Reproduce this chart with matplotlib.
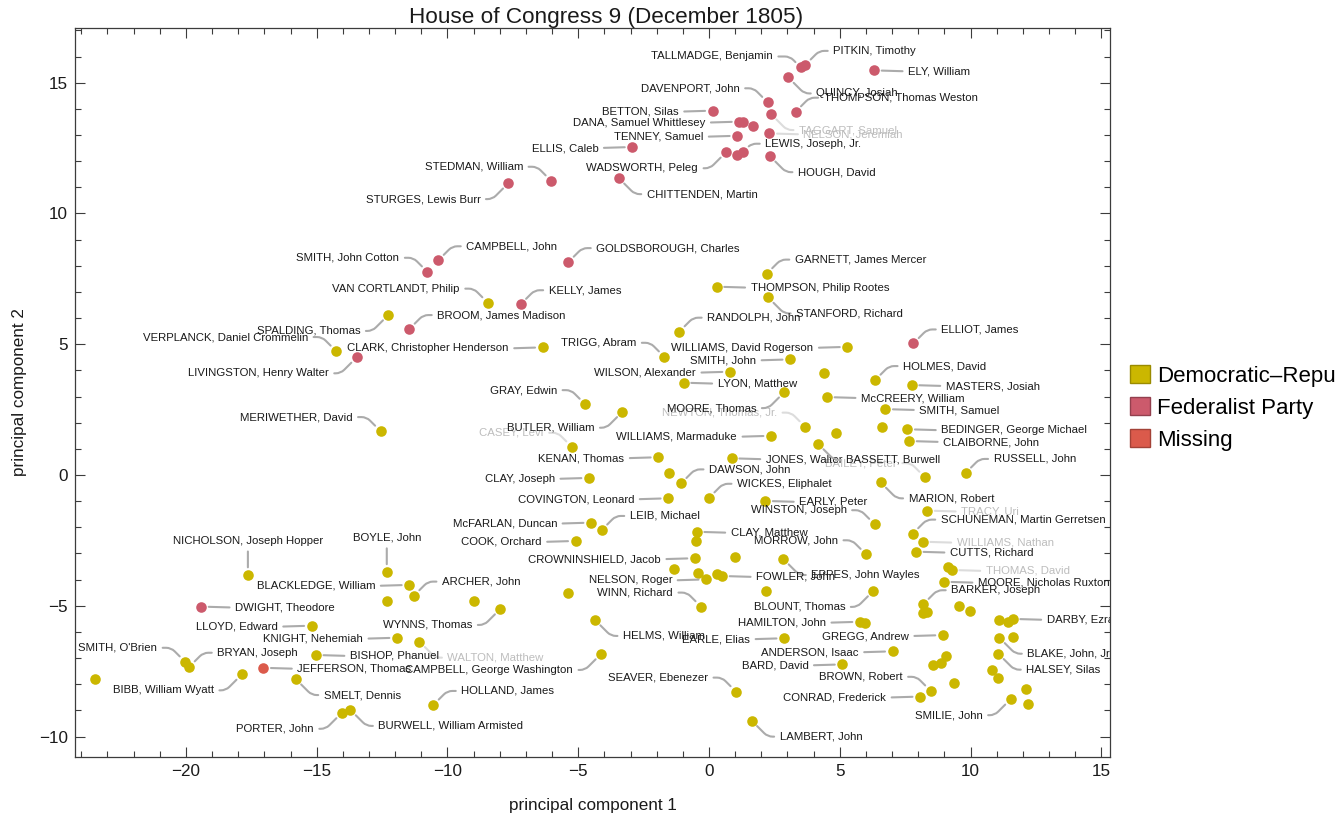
import matplotlib
matplotlib.use("Agg")
import matplotlib.pyplot as plt
from matplotlib.patches import Patch
from matplotlib.ticker import MultipleLocator

# ---------------- data ----------------
names = [
    "TALLMADGE, Benjamin", "PITKIN, Timothy", "ELY, William", "QUINCY, Josiah",
    "THOMPSON, Thomas Weston", "DAVENPORT, John", "TAGGART, Samuel", "BETTON, Silas",
    "DANA, Samuel Whittlesey", "", "", "TENNEY, Samuel", "NELSON, Jeremiah",
    "LEWIS, Joseph, Jr.", "WADSWORTH, Peleg", "", "ELLIS, Caleb", "HOUGH, David",
    "STEDMAN, William", "STURGES, Lewis Burr", "CHITTENDEN, Martin", "SMITH, John Cotton",
    "CAMPBELL, John", "GOLDSBOROUGH, Charles", "KELLY, James", "BROOM, James Madison",
    "LIVINGSTON, Henry Walter", "ELLIOT, James", "DWIGHT, Theodore", "JEFFERSON, Thomas",
    "VAN CORTLANDT, Philip", "SPALDING, Thomas", "VERPLANCK, Daniel Crommelin",
    "CLARK, Christopher Henderson", "MERIWETHER, David", "GARNETT, James Mercer",
    "THOMPSON, Philip Rootes", "STANFORD, Richard", "RANDOLPH, John", "TRIGG, Abram",
    "WILLIAMS, David Rogerson", "SMITH, John", "WILSON, Alexander", "LYON, Matthew", "",
    "HOLMES, David", "MASTERS, Josiah", "McCREERY, William", "GRAY, Edwin", "MOORE, Thomas",
    "SMITH, Samuel", "BUTLER, William", "NEWTON, Thomas, Jr.", "", "",
    "BEDINGER, George Michael", "CLAIBORNE, John", "CASEY, Levi", "WILLIAMS, Marmaduke",
    "KENAN, Thomas", "JONES, Walter", "BASSETT, Burwell", "BAILEY, Peter", "RUSSELL, John",
    "MARION, Robert", "DAWSON, John", "CLAY, Joseph", "", "COVINGTON, Leonard",
    "WICKES, Eliphalet", "EARLY, Peter", "WINSTON, Joseph", "TRACY, Uri",
    "SCHUNEMAN, Martin Gerretsen", "McFARLAN, Duncan", "LEIB, Michael", "COOK, Orchard",
    "CLAY, Matthew", "", "MORROW, John", "WILLIAMS, Nathan", "CUTTS, Richard",
    "CROWNINSHIELD, Jacob", "", "", "EPPES, John Wayles", "THOMAS, David", "",
    "FOWLER, John", "", "NELSON, Roger", "", "MOORE, Nicholas Ruxton", "BLOUNT, Thomas", "",
    "BARKER, Joseph", "", "", "", "", "WINN, Richard", "", "ARCHER, John",
    "BLACKLEDGE, William", "BOYLE, John", "NICHOLSON, Joseph Hopper", "", "",
    "WYNNS, Thomas", "DARBY, Ezra", "", "", "HAMILTON, John", "", "HELMS, William",
    "LLOYD, Edward", "KNIGHT, Nehemiah", "GREGG, Andrew", "BLAKE, John, Jr.", "",
    "EARLE, Elias", "WALTON, Matthew", "BISHOP, Phanuel", "ANDERSON, Isaac",
    "HALSEY, Silas", "SMITH, O'Brien", "BRYAN, Joseph", "CAMPBELL, George Washington",
    "BARD, David", "", "", "", "BIBB, William Wyatt", "SMELT, Dennis", "",
    "BROWN, Robert", "HOLLAND, James", "SEAVER, Ebenezer", "CONRAD, Frederick",
    "", "", "", "", "", "SMILIE, John", "PORTER, John", "BURWELL, William Armisted",
    "LAMBERT, John",
]

pc1 = [
    3.51, 3.68, 6.31, 3.03,
    3.31, 2.24, 2.37, 0.14,
    1.16, 1.31, 1.67, 1.08, 2.31,
    1.31, 0.65, 1.08, -2.93, 2.33,
    -6.04, -7.67, -3.45, -10.77,
    -10.35, -5.38, -7.20, -11.46,
    -13.47, 7.81, -19.42, -17.04,
    -8.46, -12.26, -14.26,
    -6.36, -12.56, 2.21,
    0.29, 2.26, -1.14, -1.71,
    5.29, 3.10, 0.80, -0.97, 4.40,
    6.35, 7.75, 4.51, -4.74, 2.88,
    6.74, -3.31, 3.67, 4.85, 6.61,
    7.58, 7.65, -5.25, 2.37,
    -1.94, 0.87, 4.17, 8.25, 9.81,
    6.56, -1.07, -4.59, -1.52, -1.56,
    0.00, 2.15, 6.33, 8.34,
    7.79, -4.51, -4.10, -5.10,
    -0.47, -0.51, 6.00, 8.17, 7.91,
    -0.54, 0.99, -1.34, 2.84, 9.28, 9.12,
    0.50, 0.32, -0.11, -0.43, 8.98, 6.28, 2.17,
    8.19, 8.19, 8.32, 9.57, 9.98, -0.31, -5.40, -11.28,
    -11.46, -12.32, -17.63, -12.30, -8.98,
    -7.98, 11.61, 11.09, 11.44, 5.77, 5.96, -4.36,
    -15.19, -11.93, 8.94, 11.10, 11.63,
    2.87, -11.07, -15.03, 7.02,
    11.06, -20.03, -19.87, -4.13,
    5.10, 9.05, 8.87, 8.57, -17.86, -15.80, -23.47,
    8.47, -10.54, 1.03, 8.07,
    10.81, 11.06, 9.37, 12.12, 12.21, 11.53, -14.04, -13.71,
    1.63,
]

pc2 = [
    15.58, 15.68, 15.47, 15.20,
    13.89, 14.25, 13.80, 13.93,
    13.51, 13.48, 13.33, 12.97, 13.06,
    12.36, 12.34, 12.23, 12.54, 12.19,
    11.25, 11.16, 11.35, 7.77,
    8.21, 8.14, 6.53, 5.58,
    4.50, 5.03, -5.03, -7.37,
    6.59, 6.12, 4.74,
    4.88, 1.68, 7.70,
    7.20, 6.79, 5.48, 4.52,
    4.90, 4.42, 3.95, 3.53, 3.91,
    3.63, 3.44, 2.98, 2.71, 3.17,
    2.52, 2.42, 1.85, 1.62, 1.82,
    1.75, 1.30, 1.08, 1.50,
    0.68, 0.64, 1.19, -0.08, 0.08,
    -0.28, -0.32, -0.11, 0.09, -0.89,
    -0.87, -0.99, -1.88, -1.36,
    -2.24, -1.82, -2.10, -2.52,
    -2.17, -2.51, -3.03, -2.55, -2.93,
    -3.18, -3.12, -3.59, -3.21, -3.63, -3.51,
    -3.86, -3.80, -3.99, -3.76, -4.08, -4.43, -4.42,
    -4.94, -5.29, -5.23, -5.00, -5.19, -5.03, -4.50, -4.61,
    -4.20, -3.70, -3.82, -4.80, -4.82,
    -5.12, -5.50, -5.54, -5.61, -5.61, -5.67, -5.54,
    -5.76, -6.22, -6.12, -6.22, -6.20,
    -6.24, -6.37, -6.88, -6.74,
    -6.83, -7.14, -7.33, -6.84,
    -7.24, -6.91, -7.20, -7.26, -7.62, -7.80, -7.81,
    -8.25, -8.79, -8.28, -8.47,
    -7.45, -7.77, -7.96, -8.19, -8.77, -8.57, -9.09, -8.98,
    -9.39,
]

party = ["F"] * 29 + ["M"] + ["D"] * (len(names) - 30)

party_labels = {"D": "Democratic\u2013Republican", "F": "Federalist Party", "M": "Missing"}

# ---------------- layout / style ----------------
label_side = {
    "TALLMADGE, Benjamin": "NW", "PITKIN, Timothy": "NE", "ELY, William": "E",
    "QUINCY, Josiah": "SE", "THOMPSON, Thomas Weston": "NE", "DAVENPORT, John": "NW",
    "TAGGART, Samuel": "SE", "BETTON, Silas": "W", "DANA, Samuel Whittlesey": "W",
    "TENNEY, Samuel": "W", "NELSON, Jeremiah": "E", "LEWIS, Joseph, Jr.": "NE",
    "WADSWORTH, Peleg": "SW", "ELLIS, Caleb": "W", "HOUGH, David": "SE",
    "STEDMAN, William": "NW", "STURGES, Lewis Burr": "SW", "CHITTENDEN, Martin": "SE",
    "SMITH, John Cotton": "NW", "CAMPBELL, John": "NE", "GOLDSBOROUGH, Charles": "NE",
    "KELLY, James": "NE", "BROOM, James Madison": "NE", "LIVINGSTON, Henry Walter": "SW",
    "ELLIOT, James": "NE", "DWIGHT, Theodore": "E", "JEFFERSON, Thomas": "E",
    "VAN CORTLANDT, Philip": "NW", "SPALDING, Thomas": "SW",
    "VERPLANCK, Daniel Crommelin": "NW", "CLARK, Christopher Henderson": "W",
    "MERIWETHER, David": "NW", "GARNETT, James Mercer": "NE",
    "THOMPSON, Philip Rootes": "E", "STANFORD, Richard": "SE", "RANDOLPH, John": "NE",
    "TRIGG, Abram": "NW", "WILLIAMS, David Rogerson": "W", "SMITH, John": "W",
    "WILSON, Alexander": "W", "LYON, Matthew": "E", "HOLMES, David": "NE",
    "MASTERS, Josiah": "E", "McCREERY, William": "E", "GRAY, Edwin": "NW",
    "MOORE, Thomas": "SW", "SMITH, Samuel": "E", "BUTLER, William": "SW",
    "NEWTON, Thomas, Jr.": "NW", "BEDINGER, George Michael": "E", "CLAIBORNE, John": "E",
    "CASEY, Levi": "NW", "WILLIAMS, Marmaduke": "W", "KENAN, Thomas": "W",
    "JONES, Walter": "E", "BASSETT, Burwell": "SE", "BAILEY, Peter": "NW",
    "RUSSELL, John": "NE", "MARION, Robert": "SE", "DAWSON, John": "NE",
    "CLAY, Joseph": "W", "COVINGTON, Leonard": "W", "WICKES, Eliphalet": "NE",
    "EARLY, Peter": "E", "WINSTON, Joseph": "NW", "TRACY, Uri": "E",
    "SCHUNEMAN, Martin Gerretsen": "NE", "McFARLAN, Duncan": "W", "LEIB, Michael": "NE",
    "COOK, Orchard": "W", "CLAY, Matthew": "E", "MORROW, John": "NW",
    "WILLIAMS, Nathan": "E", "CUTTS, Richard": "E", "CROWNINSHIELD, Jacob": "W",
    "EPPES, John Wayles": "SE", "THOMAS, David": "E", "FOWLER, John": "E",
    "NELSON, Roger": "W", "MOORE, Nicholas Ruxton": "E", "BLOUNT, Thomas": "SW",
    "BARKER, Joseph": "NE", "WINN, Richard": "NW", "ARCHER, John": "NE",
    "BLACKLEDGE, William": "W", "BOYLE, John": "N", "NICHOLSON, Joseph Hopper": "N",
    "WYNNS, Thomas": "SW", "DARBY, Ezra": "E", "HAMILTON, John": "W",
    "HELMS, William": "SE", "LLOYD, Edward": "W", "KNIGHT, Nehemiah": "W",
    "GREGG, Andrew": "W", "BLAKE, John, Jr.": "SE", "EARLE, Elias": "W",
    "WALTON, Matthew": "SE", "BISHOP, Phanuel": "E", "ANDERSON, Isaac": "W",
    "HALSEY, Silas": "SE", "SMITH, O'Brien": "NW", "BRYAN, Joseph": "NE",
    "CAMPBELL, George Washington": "SW", "BARD, David": "W", "BIBB, William Wyatt": "SW",
    "SMELT, Dennis": "SE", "BROWN, Robert": "NW", "HOLLAND, James": "NE",
    "SEAVER, Ebenezer": "NW", "CONRAD, Frederick": "W", "SMILIE, John": "SW",
    "PORTER, John": "SW", "BURWELL, William Armisted": "SE", "LAMBERT, John": "SE",
}
faded = {"TAGGART, Samuel", "NELSON, Jeremiah", "NEWTON, Thomas, Jr.", "CASEY, Levi",
         "BAILEY, Peter", "TRACY, Uri", "WILLIAMS, Nathan", "THOMAS, David",
         "WALTON, Matthew"}
side_offsets = {"E": (34, -1), "W": (-34, -1), "NE": (28, 14), "NW": (-28, 14),
                "SE": (28, -16), "SW": (-28, -16), "N": (0, 34)}
special_offsets = {"LEWIS, Joseph, Jr.": (22, 8), "TALLMADGE, Benjamin": (-28, 11)}

point_colors = {"D": "#CBB700", "F": "#CC5A6C", "M": "#DB5A4B"}
legend_edges = {"D": "#9A8B00", "F": "#93404E", "M": "#A34237"}
text_col = "#1a1a1a"
faded_col = "#bdbdbd"
lead_col = "#ababab"
faded_lead = "#dcdcdc"
spine_col = "#3c3c3c"

plt.rcParams["font.family"] = ["Liberation Sans", "DejaVu Sans"]
plt.rcParams["axes.unicode_minus"] = True

fig = plt.figure(figsize=(13.36, 8.18), dpi=100)
ax = fig.add_axes([75 / 1336, 61 / 818, 1035 / 1336, 729 / 818])

for code in ["D", "F", "M"]:
    xs = [x for x, p in zip(pc1, party) if p == code]
    ys = [y for y, p in zip(pc2, party) if p == code]
    ax.scatter(xs, ys, s=58, color=point_colors[code], linewidths=0, zorder=3)

for n, x, y in zip(names, pc1, pc2):
    if not n:
        continue
    side = label_side[n]
    dx, dy = special_offsets.get(n, side_offsets[side])
    if side in ("E", "NE", "SE"):
        ha, rel = "left", (0, 0.5)
    elif side in ("W", "NW", "SW"):
        ha, rel = "right", (1, 0.5)
    else:
        ha, rel = "center", (0.5, 0)
    if side in ("E", "W", "N"):
        cs = "arc3,rad=0"
    elif side in ("NE", "SW"):
        cs = "angle,angleA=0,angleB=45,rad=5"
    else:
        cs = "angle,angleA=0,angleB=-45,rad=5"
    isf = n in faded
    ann = ax.annotate(
        n, xy=(x, y), xytext=(dx, dy), textcoords="offset pixels",
        ha=ha, va="center", fontsize=8.2, color=faded_col if isf else text_col,
        zorder=2 if isf else 4,
        arrowprops=dict(arrowstyle="-", connectionstyle=cs,
                        color=faded_lead if isf else lead_col, lw=1.5,
                        shrinkA=2, shrinkB=5.5, relpos=rel),
    )
    ann.set_clip_on(True)
    ann.set_clip_path(ax.patch)

ax.set_xlim(-24.24, 15.33)
ax.set_ylim(-10.78, 17.09)
ax.xaxis.set_major_locator(MultipleLocator(5))
ax.xaxis.set_minor_locator(MultipleLocator(1))
ax.yaxis.set_major_locator(MultipleLocator(5))
ax.yaxis.set_minor_locator(MultipleLocator(1))
ax.tick_params(which="both", direction="in", top=True, right=True,
               color=spine_col, width=0.8, labelsize=12.3, labelcolor=text_col)
ax.tick_params(which="major", length=7.2, pad=5)
ax.tick_params(which="minor", length=4.3)
for s in ax.spines.values():
    s.set_color(spine_col)
    s.set_linewidth(0.9)

ax.set_xlabel("principal component 1", fontsize=12.3, color=text_col, labelpad=14)
ax.set_ylabel("principal component 2", fontsize=12.3, color=text_col, labelpad=9)
ax.set_title("House of Congress 9 (December 1805)", fontsize=16.2, color=text_col,
             pad=2, x=0.513)

handles = [Patch(facecolor=point_colors[c], edgecolor=legend_edges[c], linewidth=1.0,
                 label=party_labels[c]) for c in ["D", "F", "M"]]
fig.legend(handles=handles, loc="upper left", bbox_to_anchor=(1130 / 1336, 1 - 365 / 818),
           frameon=False, fontsize=16, handlelength=0.9, handleheight=0.9,
           handletextpad=0.3, labelspacing=0.45, borderpad=0, borderaxespad=0)

fig.savefig("out.png", dpi=100)
